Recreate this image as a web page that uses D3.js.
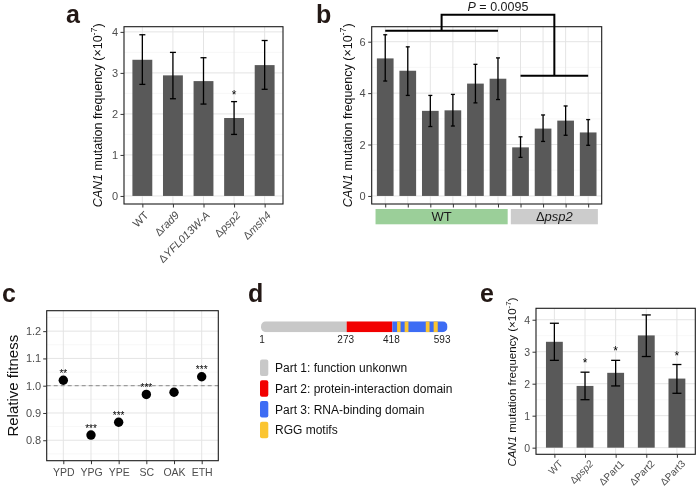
<!DOCTYPE html>
<html><head><meta charset="utf-8">
<script src="https://cdn.jsdelivr.net/npm/d3@7"></script>
<style>body{margin:0;background:#fff} svg{display:block;font-family:"Liberation Sans",Arial,Helvetica,sans-serif;will-change:transform}</style>
</head><body>
<svg id="fig" width="696" height="493"></svg>
<script>
// ---------- DATA ----------
// panel a
const catsA   = ["WT","Δrad9","ΔYFL013W-A","Δpsp2","Δmsh4"];
const italA   = [false,true,true,true,true];
const meanA   = [3.32,2.94,2.80,1.90,3.19];
const lowA    = [2.72,2.37,2.24,1.50,2.60];
const highA   = [3.93,3.50,3.37,2.30,3.79];
const sigA    = ["","","","*",""];
const yTicksA = [0,1,2,3,4];
// panel b
const catsB   = ["b1","b2","b3","b4","b5","b6","b7","b8","b9","b10"];
const groupsB = ["WT","WT","WT","WT","WT","WT","Δpsp2","Δpsp2","Δpsp2","Δpsp2"];
const meanB   = [5.35,4.87,3.31,3.33,4.37,4.56,1.89,2.62,2.93,2.47];
const lowB    = [4.47,3.91,2.70,2.72,3.62,3.75,1.50,2.12,2.36,1.97];
const highB   = [6.27,5.80,3.91,3.95,5.12,5.37,2.30,3.15,3.50,2.97];
const yTicksB = [0,2,4,6];
const pValueB = "0.0095";
const bracketB = {wt:6.43, psp2:4.68, top:7.05};
// panel c
const catsC   = ["YPD","YPG","YPE","SC","OAK","ETH"];
const fitC    = [1.020,0.819,0.866,0.968,0.976,1.033];
const sigC    = ["**","***","***","***","","***"];
const yLimC   = [0.75,1.25];
const yTicksC = [0.8,0.9,1.0,1.1,1.2];
// panel d
const lengthD = [1,593];
const partsD  = [
  {label:"Part 1: function unkonwn", start:1, end:273, color:"#c8c8c8"},
  {label:"Part 2: protein-interaction domain", start:273, end:418, color:"#f20000"},
  {label:"Part 3: RNA-binding domain", start:418, end:593, color:"#3d6cf4"}
];
const rggD    = [[433,444],[457,469],[524,536],[549,562]];
const rggLabel = "RGG motifs", rggColor = "#fbc531";
const ticksD  = [1,273,418,593];
// panel e
const catsE   = ["WT","Δpsp2","ΔPart1","ΔPart2","ΔPart3"];
const italE   = [false,true,false,false,false];
const meanE   = [3.31,1.93,2.34,3.51,2.16];
const lowE    = [2.73,1.50,1.93,2.85,1.70];
const highE   = [3.89,2.36,2.73,4.15,2.60];
const sigE    = ["","*","*","","*"];
const yTicksE = [0,1,2,3,4];

// ---------- DRAW ----------
const svg = d3.select("#fig");
const BAR = "#595959", GRID = "#e4e4e4", MINOR = "#f1f1f1", TXT = "#4d4d4d";

function yLabelCAN(x, y, size){
  const t = svg.append("text").attr("transform",`translate(${x},${y}) rotate(-90)`)
    .attr("text-anchor","middle").style("font-size",size+"px").attr("fill","#111");
  t.append("tspan").attr("font-style","italic").text("CAN1");
  t.append("tspan").text(" mutation frequency (×10");
  t.append("tspan").attr("dy",-size*0.42).style("font-size",(size*0.7)+"px").text("-7");
  t.append("tspan").attr("dy",size*0.42).text(")");
}

function catLabel(sel, name, ital){
  if (name.startsWith("Δ")) {
    sel.append("tspan").text("Δ");
    sel.append("tspan").attr("font-style", ital ? "italic" : "normal").text(name.slice(1));
  } else sel.append("tspan").text(name);
}

function panelLetter(t, x, y){
  svg.append("text").attr("x",x).attr("y",y).text(t)
    .style("font-size","25px").style("font-weight","bold").attr("fill","#231815");
}

function barPanel(p){
  const g = svg.append("g");
  const x = d3.scalePoint().domain(p.cats).range([p.left,p.right]).padding(0.6);
  const yMax = d3.max(p.high);
  const y = d3.scaleLinear().domain([-0.05*yMax, 1.05*yMax]).range([p.bottom,p.top]);
  const step = p.yTicks[1]-p.yTicks[0];
  const minors = p.yTicks.map(v=>v+step/2).filter(v=>v<y.domain()[1]);
  g.selectAll(null).data(minors).join("line")
    .attr("x1",p.left).attr("x2",p.right).attr("y1",d=>y(d)).attr("y2",d=>y(d))
    .attr("stroke",MINOR).attr("stroke-width",0.6);
  g.selectAll(null).data(p.yTicks).join("line")
    .attr("x1",p.left).attr("x2",p.right).attr("y1",d=>y(d)).attr("y2",d=>y(d))
    .attr("stroke",GRID).attr("stroke-width",1);
  g.selectAll(null).data(p.cats).join("line")
    .attr("x1",d=>x(d)).attr("x2",d=>x(d)).attr("y1",p.top).attr("y2",p.bottom)
    .attr("stroke",GRID).attr("stroke-width",1);
  const bw = p.barW * x.step();
  g.selectAll(null).data(p.cats).join("rect")
    .attr("x",d=>x(d)-bw/2).attr("width",bw)
    .attr("y",(d,i)=>y(p.mean[i])).attr("height",(d,i)=>y(0)-y(p.mean[i]))
    .attr("fill",BAR);
  const eb = g.selectAll(null).data(p.cats).join("g").attr("stroke","#000").attr("stroke-width",1.3);
  eb.append("line").attr("x1",d=>x(d)).attr("x2",d=>x(d))
    .attr("y1",(d,i)=>y(p.low[i])).attr("y2",(d,i)=>y(p.high[i]));
  eb.append("line").attr("x1",d=>x(d)-p.cap/2).attr("x2",d=>x(d)+p.cap/2)
    .attr("y1",(d,i)=>y(p.low[i])).attr("y2",(d,i)=>y(p.low[i]));
  eb.append("line").attr("x1",d=>x(d)-p.cap/2).attr("x2",d=>x(d)+p.cap/2)
    .attr("y1",(d,i)=>y(p.high[i])).attr("y2",(d,i)=>y(p.high[i]));
  if (p.sig) g.selectAll(null).data(p.cats).join("text")
    .attr("x",d=>x(d)).attr("y",(d,i)=>y(p.high[i])-p.starOff)
    .attr("text-anchor","middle").attr("fill","#000").style("font-size","12px").text((d,i)=>p.sig[i]);
  g.append("rect").attr("x",p.left).attr("y",p.top).attr("width",p.right-p.left).attr("height",p.bottom-p.top)
    .attr("fill","none").attr("stroke","#1a1a1a").attr("stroke-width",1.1);
  const ya = g.append("g").attr("transform",`translate(${p.left},0)`)
    .call(d3.axisLeft(y).tickValues(p.yTicks).tickSize(3.5).tickPadding(2.5).tickFormat(d3.format("d")));
  ya.select(".domain").remove();
  ya.selectAll("line").attr("stroke","#333");
  ya.selectAll("text").attr("fill",TXT).style("font-size",p.tickFont+"px").style("font-family","inherit");
  const xa = g.append("g").attr("transform",`translate(0,${p.bottom})`)
    .call(d3.axisBottom(x).tickSize(3.5).tickFormat(""));
  xa.select(".domain").remove();
  xa.selectAll("line").attr("stroke","#333");
  if (p.xLab) {
    p.cats.forEach((c,i)=>{
      const t = g.append("text")
        .attr("transform",`translate(${x(c)+p.xLab.dx},${p.bottom+p.xLab.dy}) rotate(-45)`)
        .attr("text-anchor","end").attr("fill",TXT).style("font-size",p.xLab.size+"px");
      catLabel(t, c, p.ital[i]);
    });
  }
  return {x,y,g};
}

// Panel a
barPanel({left:124,right:283,top:26.7,bottom:204,cats:catsA,mean:meanA,low:lowA,high:highA,
  sig:sigA,yTicks:yTicksA,barW:0.65,cap:6,starOff:3,tickFont:11,ital:italA,
  xLab:{dx:7,dy:12,size:11}});
yLabelCAN(102,115.4,12.5);
panelLetter("a",66,23.3);

// Panel b
const pb = barPanel({left:371.7,right:601.7,top:26.7,bottom:204,cats:catsB,mean:meanB,low:lowB,high:highB,
  sig:null,yTicks:yTicksB,barW:0.74,cap:4,starOff:3,tickFont:11});
yLabelCAN(351.7,115.4,12.5);
panelLetter("b",316,23.3);
{
  const x = pb.x, y = pb.y, st = x.step();
  const groups = Array.from(new Set(groupsB));
  const fills = {"WT":"#9bcf99","Δpsp2":"#cccccc"};
  groups.forEach(gname=>{
    const members = catsB.filter((c,i)=>groupsB[i]===gname);
    const x0 = x(members[0]) - 0.43*st, x1 = x(members[members.length-1]) + 0.43*st;
    svg.append("rect").attr("x",x0).attr("y",209).attr("width",x1-x0).attr("height",15.3).attr("fill",fills[gname]);
    const t = svg.append("text").attr("x",(x0+x1)/2).attr("y",221.3).attr("text-anchor","middle")
      .style("font-size","13px").attr("fill","#1a1a1a");
    catLabel(t, gname, true);
  });
  const wt = catsB.filter((c,i)=>groupsB[i]==="WT"), ps = catsB.filter((c,i)=>groupsB[i]==="Δpsp2");
  const wx0 = x(wt[0]), wx1 = x(wt[wt.length-1]), px0 = x(ps[0]), px1 = x(ps[ps.length-1]);
  const wm = (wx0+wx1)/2, pm = (px0+px1)/2;
  const path = d3.path();
  path.moveTo(wx0,y(bracketB.wt)); path.lineTo(wx1,y(bracketB.wt));
  path.moveTo(wm,y(bracketB.wt)); path.lineTo(wm,y(bracketB.top)); path.lineTo(pm,y(bracketB.top)); path.lineTo(pm,y(bracketB.psp2));
  path.moveTo(px0,y(bracketB.psp2)); path.lineTo(px1,y(bracketB.psp2));
  svg.append("path").attr("d",path.toString()).attr("fill","none").attr("stroke","#000").attr("stroke-width",2);
  const pt = svg.append("text").attr("x",(wm+pm)/2).attr("y",11).attr("text-anchor","middle").style("font-size","12.5px").attr("fill","#1a1a1a");
  pt.append("tspan").attr("font-style","italic").text("P");
  pt.append("tspan").text(" = " + pValueB);
}

// Panel c
{
  const L=46.7,R=218.3,T=310.7,B=460.7;
  const x = d3.scalePoint().domain(catsC).range([L,R]).padding(0.6);
  const span = yLimC[1]-yLimC[0];
  const y = d3.scaleLinear().domain([yLimC[0]-0.05*span, yLimC[1]+0.05*span]).range([B,T]);
  const minors = yTicksC.map(v=>v-0.05).concat([yTicksC[yTicksC.length-1]+0.05]).filter(v=>v>y.domain()[0]&&v<y.domain()[1]);
  svg.selectAll(null).data(minors).join("line").attr("x1",L).attr("x2",R).attr("y1",d=>y(d)).attr("y2",d=>y(d))
    .attr("stroke",MINOR).attr("stroke-width",0.6);
  svg.selectAll(null).data(yTicksC).join("line").attr("x1",L).attr("x2",R).attr("y1",d=>y(d)).attr("y2",d=>y(d))
    .attr("stroke",GRID).attr("stroke-width",1);
  svg.selectAll(null).data(catsC).join("line").attr("x1",d=>x(d)).attr("x2",d=>x(d)).attr("y1",T).attr("y2",B)
    .attr("stroke",GRID).attr("stroke-width",1);
  svg.append("line").attr("x1",L).attr("x2",R).attr("y1",y(1)).attr("y2",y(1))
    .attr("stroke","#8a8a8a").attr("stroke-width",1).attr("stroke-dasharray","4,3");
  svg.selectAll(null).data(catsC).join("circle").attr("cx",d=>x(d)).attr("cy",(d,i)=>y(fitC[i])).attr("r",4.7).attr("fill","#000");
  svg.selectAll(null).data(catsC).join("text").attr("x",d=>x(d)).attr("y",(d,i)=>y(fitC[i])-3.3)
    .attr("text-anchor","middle").attr("fill","#000").style("font-size","10px").text((d,i)=>sigC[i]);
  svg.append("rect").attr("x",L).attr("y",T).attr("width",R-L).attr("height",B-T)
    .attr("fill","none").attr("stroke","#1a1a1a").attr("stroke-width",1.1);
  const ya = svg.append("g").attr("transform",`translate(${L},0)`)
    .call(d3.axisLeft(y).tickValues(yTicksC).tickSize(3.5).tickPadding(2).tickFormat(d3.format(".1f")));
  ya.select(".domain").remove(); ya.selectAll("line").attr("stroke","#333");
  ya.selectAll("text").attr("fill",TXT).style("font-size","11px").style("font-family","inherit");
  const xa = svg.append("g").attr("transform",`translate(0,${B})`)
    .call(d3.axisBottom(x).tickSize(3.5).tickPadding(4.5));
  xa.select(".domain").remove(); xa.selectAll("line").attr("stroke","#333");
  xa.selectAll("text").attr("fill",TXT).style("font-size","10.5px").style("font-family","inherit");
  svg.append("text").attr("transform",`translate(18.3,${(T+B)/2}) rotate(-90)`).attr("text-anchor","middle")
    .style("font-size","15px").attr("fill","#111").text("Relative fitness");
  panelLetter("c",2,302);
}

// Panel d
{
  const x = d3.scaleLinear().domain(lengthD).range([261,447.5]);
  const y0 = 321.3, h = 11;
  const defs = svg.append("defs");
  defs.append("clipPath").attr("id","protclip").append("rect")
    .attr("x",x(lengthD[0])).attr("y",y0).attr("width",x(lengthD[1])-x(lengthD[0])).attr("height",h).attr("rx",5).attr("ry",5);
  const gb = svg.append("g").attr("clip-path","url(#protclip)");
  gb.selectAll(null).data(partsD).join("rect").attr("x",d=>x(d.start)).attr("width",d=>x(d.end)-x(d.start))
    .attr("y",y0).attr("height",h).attr("fill",d=>d.color);
  gb.selectAll(null).data(rggD).join("rect").attr("x",d=>x(d[0])).attr("width",d=>x(d[1])-x(d[0]))
    .attr("y",y0).attr("height",h).attr("fill",rggColor);
  svg.selectAll(null).data(ticksD).join("text")
    .attr("x",(d,i)=> i===ticksD.length-1 ? x(d)+3 : x(d)+ (i===0?1:-1))
    .attr("y",343).attr("text-anchor",(d,i)=> i===ticksD.length-1 ? "end":"middle")
    .style("font-size","10px").attr("fill","#222").text(d=>d);
  const leg = partsD.map(d=>({label:d.label,color:d.color})).concat([{label:rggLabel,color:rggColor}]);
  const ly = d3.scalePoint().domain(d3.range(leg.length)).range([367.7,430]);
  svg.selectAll(null).data(leg).join("rect").attr("x",260).attr("width",8.3).attr("y",(d,i)=>ly(i)-8.3).attr("height",16.6)
    .attr("rx",2).attr("fill",d=>d.color);
  svg.selectAll(null).data(leg).join("text").attr("x",275).attr("y",(d,i)=>ly(i)+4.3)
    .style("font-size","12px").attr("fill","#111").text(d=>d.label);
  panelLetter("d",248,302);
}

// Panel e
barPanel({left:536,right:695.3,top:308.3,bottom:454.3,cats:catsE,mean:meanE,low:lowE,high:highE,
  sig:sigE,yTicks:yTicksE,barW:0.55,cap:9,starOff:5,tickFont:10.5,ital:italE,
  xLab:{dx:9,dy:10,size:10}});
yLabelCAN(515.5,382,11.5);
panelLetter("e",480,302);
</script>
</body></html>
